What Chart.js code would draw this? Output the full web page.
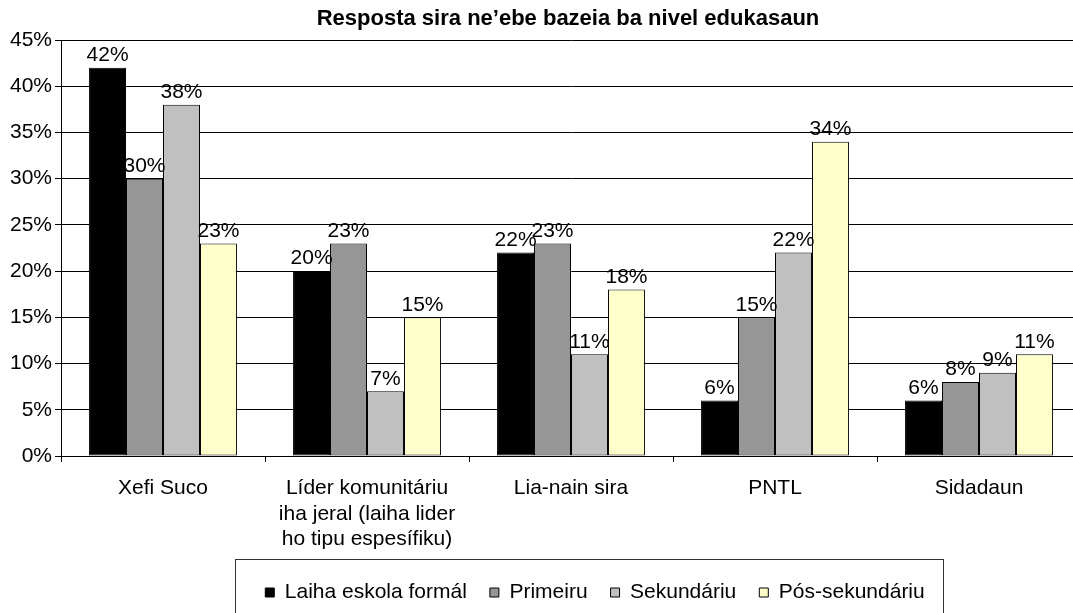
<!DOCTYPE html>
<html>
<head>
<meta charset="utf-8">
<script src="https://cdn.jsdelivr.net/npm/chart.js@4"></script>
<style>
  html, body { margin: 0; padding: 0; background: #fff; overflow: hidden; }
  #wrap { width: 1073px; height: 613px; overflow: hidden; }
</style>
</head>
<body>
<div id="wrap"><canvas id="chart" width="1190" height="613"></canvas></div>
<script>
// dados
const categories = [
  "Xefi Suco",
  ["Líder komunitáriu", "iha jeral (laiha lider", "ho tipu espesífiku)"],
  "Lia-nain sira",
  "PNTL",
  "Sidadaun"
];
const seriesNames = ["Laiha eskola formál", "Primeiru", "Sekundáriu", "Pós-sekundáriu"];
const laihaEskola = [42, 20, 22, 6, 6];
const primeiru = [30, 23, 23, 15, 8];
const sekundariu = [38, 7, 11, 22, 9];
const posSekundariu = [23, 15, 18, 34, 11];
const yTicks = [0, 5, 10, 15, 20, 25, 30, 35, 40, 45];

const titleText = "Resposta sira ne’ebe bazeia ba nivel edukasaun";
const font = "'Liberation Sans', Arial, sans-serif";
const colors = ["#000000", "#969696", "#C0C0C0", "#FFFFCC"];
const values = [laihaEskola, primeiru, sekundariu, posSekundariu];

// label iha barra leten + titulu + kaixa legenda
const extras = {
  id: "extras",
  afterDatasetsDraw(chart) {
    const ctx = chart.ctx;
    ctx.save();
    ctx.fillStyle = "#000";
    ctx.font = "21px " + font;
    ctx.textAlign = "center";
    ctx.textBaseline = "bottom";
    chart.data.datasets.forEach((ds, i) => {
      chart.getDatasetMeta(i).data.forEach((bar, j) => {
        ctx.fillText(ds.data[j] + "%", bar.x, bar.y - 2);
      });
    });
    ctx.restore();
  },
  afterDraw(chart) {
    const ctx = chart.ctx;
    const area = chart.chartArea;
    ctx.save();
    ctx.fillStyle = "#000";
    ctx.font = "bold 22px " + font;
    ctx.textAlign = "center";
    ctx.textBaseline = "middle";
    ctx.fillText(titleText, (area.left + area.right) / 2 - 3, 19);

    const lg = chart.legend;
    const boxes = lg.legendHitBoxes;
    if (boxes && boxes.length) {
      const l = Math.min(...boxes.map(b => b.left)) - 30;
      const r = Math.max(...boxes.map(b => b.left + b.width)) + 19;
      ctx.strokeStyle = "#333";
      ctx.lineWidth = 1;
      ctx.strokeRect(Math.round(l) + 0.5, Math.round(lg.top) + 0.5, Math.round(r - l), 80);
    }
    ctx.restore();
  }
};

new Chart(document.getElementById("chart"), {
  type: "bar",
  data: {
    labels: categories,
    datasets: seriesNames.map((name, i) => ({
      label: name,
      data: values[i],
      backgroundColor: colors[i],
      borderColor: "#000",
      borderWidth: 1,
      borderSkipped: false,
      categoryPercentage: 0.725,
      barPercentage: 1.0
    }))
  },
  options: {
    responsive: false,
    animation: false,
    layout: { padding: { top: 40, right: 0, bottom: 0, left: 0 } },
    plugins: {
      title: { display: false },
      tooltip: { enabled: false },
      legend: {
        position: "bottom",
        labels: {
          color: "#000",
          font: { family: font, size: 21 },
          boxWidth: 9,
          boxHeight: 9,
          padding: 23,
          generateLabels(chart) {
            return chart.data.datasets.map((ds, i) => ({
              text: ds.label,
              fillStyle: ds.backgroundColor,
              strokeStyle: "#000",
              lineWidth: 1,
              datasetIndex: i,
              fontColor: "#000"
            }));
          }
        }
      }
    },
    scales: {
      x: {
        grid: { display: true, drawOnChartArea: false, color: "#000", tickLength: 6, offset: true },
        border: { color: "#000" },
        ticks: { color: "#000", font: { family: font, size: 21 }, maxRotation: 0, autoSkip: false, padding: 14 },
        afterFit(scale) { scale.height = 103; }
      },
      y: {
        min: 0,
        max: 45,
        afterBuildTicks(scale) { scale.ticks = yTicks.map(v => ({ value: v })); },
        grid: { color: "#000", tickLength: 6 },
        border: { color: "#000" },
        ticks: { color: "#000", font: { family: font, size: 21 }, padding: 3, callback: v => v + "%" },
        afterFit(scale) { scale.width = 61; }
      },
      // eixo mamuk iha loos: plot nia parte loos la tama iha imajen
      yRight: {
        position: "right",
        min: 0,
        max: 45,
        grid: { display: false },
        border: { display: false },
        ticks: { display: false },
        afterFit(scale) { scale.width = 109; }
      }
    }
  },
  plugins: [extras]
});
</script>
</body>
</html>
